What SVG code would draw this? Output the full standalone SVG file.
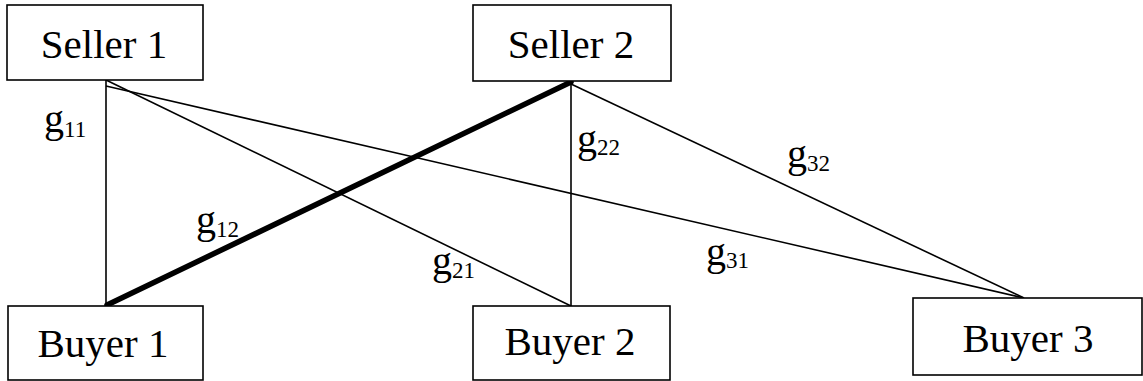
<svg xmlns="http://www.w3.org/2000/svg" width="1143" height="381" viewBox="0 0 1143 381">
<style>
.box{fill:#fff;stroke:#000;stroke-width:1.6}
.node{font-family:"Liberation Serif","Times New Roman",serif;font-size:41px;fill:#000;text-anchor:middle}
.lbl{font-family:"Liberation Serif","Times New Roman",serif;font-size:40px;fill:#000}
.sub{font-size:23px}
.ln{stroke:#000;stroke-width:1.6;fill:none}
.thick{stroke:#000;stroke-width:5.5;fill:none;stroke-linecap:round}
</style>
<rect width="1143" height="381" fill="#fff"/>
<g id="connectors">
<line class="ln" x1="106" y1="80" x2="106" y2="306"/>
<line class="ln" x1="106" y1="80" x2="571" y2="306"/>
<line class="ln" x1="106" y1="86" x2="1024" y2="298"/>
<line class="ln" x1="571" y1="81" x2="571" y2="306"/>
<line class="ln" x1="571" y1="84" x2="1024" y2="298"/>
<line class="thick" x1="571" y1="82" x2="107" y2="305"/>
</g>
<g id="labels">
<text class="lbl" x="44" y="132">g<tspan class="sub" dy="5">11</tspan></text>
<text class="lbl" x="577" y="152">g<tspan class="sub" dy="3">22</tspan></text>
<text class="lbl" x="787" y="167">g<tspan class="sub" dy="4">32</tspan></text>
<text class="lbl" x="706" y="265">g<tspan class="sub" dy="3">31</tspan></text>
<text class="lbl" x="196" y="233">g<tspan class="sub" dy="4">12</tspan></text>
<text class="lbl" x="432" y="274">g<tspan class="sub" dy="4">21</tspan></text>
</g>
<g id="seller1">
<rect class="box" x="7" y="5" width="196" height="75"/>
<text class="node" x="104" y="58">Seller 1</text>
</g>
<g id="seller2">
<rect class="box" x="473" y="5" width="198" height="76"/>
<text class="node" x="571" y="58">Seller 2</text>
</g>
<g id="buyer1">
<rect class="box" x="8" y="306" width="195" height="74"/>
<text class="node" x="103" y="357">Buyer 1</text>
</g>
<g id="buyer2">
<rect class="box" x="473" y="306" width="197" height="74"/>
<text class="node" x="570" y="355">Buyer 2</text>
</g>
<g id="buyer3">
<rect class="box" x="913" y="298" width="229" height="77"/>
<text class="node" x="1028" y="352">Buyer 3</text>
</g>
</svg>
